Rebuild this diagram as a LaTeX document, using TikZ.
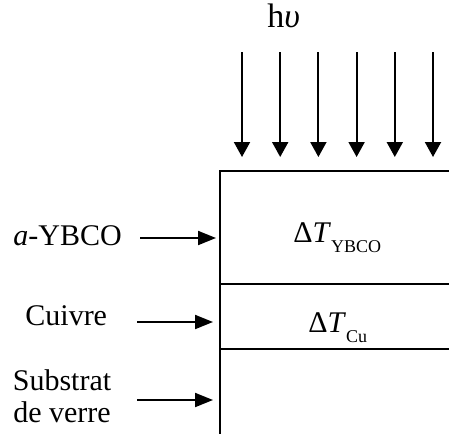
\documentclass[tikz,border=0pt]{standalone}
\usepackage{fontspec}
\setmainfont{Liberation Serif}
\usetikzlibrary{arrows.meta}
\tikzset{
  layer/.style={line width=1.3pt},
  photon/.style={line width=1pt,-{Triangle[width=8pt,length=7.5pt]}},
  pointer/.style={line width=1pt,-{Triangle[width=7pt,length=9pt]}},
  lbl/.style={inner sep=0pt,align=center,font=\fontsize{15}{16}\selectfont}
}
\newcommand{\dsub}[1]{\raisebox{-5pt}{\fontsize{9}{9}\selectfont #1}}

\begin{document}
\begin{tikzpicture}[x=0.5pt,y=-0.5pt]
\useasboundingbox (0,0) rectangle (449,434);
% light
\node[lbl,anchor=base west,font=\fontsize{17}{18}\selectfont] (hnu) at (267,27) {h\textit{υ}};
\foreach \i in {0,...,5}{
  \coordinate (ray\i) at (242+38.2*\i,52);
  \coordinate (hit\i) at (242+38.2*\i,157);
  \draw[photon] (ray\i) -- (hit\i);
}
% layers
\coordinate (tl) at (220,171);
\coordinate (tr) at (449,171);
\coordinate (ml) at (220,284);
\coordinate (mr) at (449,284);
\coordinate (bl) at (220,349);
\coordinate (br) at (449,349);
\coordinate (foot) at (220,434);
\draw[layer] (tr) -- (tl) -- (foot);
\draw[layer] (ml) -- (mr);
\draw[layer] (bl) -- (br);
\node[lbl,anchor=base west] (dtybco) at (293,242) {Δ\textit{T}\dsub{YBCO}};
\node[lbl,anchor=base west] (dtcu) at (308,332) {Δ\textit{T}\dsub{Cu}};
% names
\node[lbl,anchor=base west] (ybco) at (13,245) {\textit{a}-YBCO};
\node[lbl,anchor=base west] (cuivre) at (25,325) {Cuivre};
\node[lbl,anchor=base] (verre) at (62,422) {Substrat\\de verre};
\coordinate (ybcotail) at (140,238);
\coordinate (ybcohead) at (216,238);
\coordinate (cutail) at (137,322);
\coordinate (cuhead) at (213,322);
\coordinate (verretail) at (137,400);
\coordinate (verrehead) at (213,400);
\draw[pointer] (ybcotail) -- (ybcohead);
\draw[pointer] (cutail) -- (cuhead);
\draw[pointer] (verretail) -- (verrehead);
\end{tikzpicture}
\end{document}
